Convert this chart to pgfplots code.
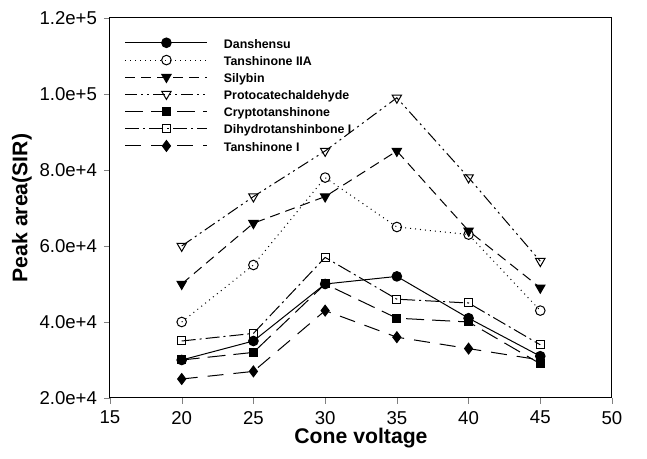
\documentclass[border=0pt]{standalone}
\usepackage{fontspec}
\setmainfont{Liberation Sans}
\usepackage{pgfplots}
\pgfplotsset{compat=1.18}

\begin{document}
\begin{tikzpicture}
\begin{axis}[
    at={(0,0)}, anchor=south west,
    width=251pt, height=190pt,
    scale only axis,
    xmin=15, xmax=50,
    ymin=20000, ymax=120000,
    xtick={15,20,...,50},
    ytick={20000,40000,60000,80000,100000,120000},
    yticklabels={2.0e+4,4.0e+4,6.0e+4,8.0e+4,1.0e+5,1.2e+5},
    scaled y ticks=false,
    tick align=outside,
    xtick pos=left, ytick pos=left,
    major tick length=3pt,
    /pgf/number format/assume math mode=true,
    tick label style={font=\fontsize{9.3}{11}\selectfont},
    xlabel={\bfseries Cone voltage},
    ylabel={\bfseries Peak area(SIR)},
    label style={font=\fontsize{10.6}{12}\selectfont},
    xlabel style={at={([yshift=-20pt]axis description cs:0.5,0)}, anchor=center},
    ylabel style={at={([xshift=-44pt]axis description cs:0,0.5)}, anchor=center},
    axis line style={line width=0.5pt},
    every axis plot/.append style={black, line width=0.5pt, mark size=2.4pt},
    legend style={draw=none, fill=none, at={(axis description cs:0.017,0.959)}, anchor=north west,
        font=\fontsize{6.2}{7}\selectfont\bfseries, row sep=0pt, column sep=3pt,
        nodes={inner ysep=0pt, inner xsep=5pt, text height=5pt, text depth=3.5pt},
        cells={anchor=west}},
    legend image code/.code={\draw[mark repeat=2,mark phase=2,#1] plot coordinates {(0pt,2pt) (20.5pt,2pt) (41pt,2pt)};},
]
\addplot[solid, mark=*] coordinates {
    (20,30000) (25,35000) (30,50000) (35,52000) (40,41000) (45,31000)};
\addlegendentry{Danshensu}
\addplot[dotted, mark=o, mark options={solid, fill=white}] coordinates {
    (20,40000) (25,55000) (30,78000) (35,65000) (40,63000) (45,43000)};
\addlegendentry{Tanshinone IIA}
\addplot[dash pattern=on 5pt off 3pt, mark=triangle*, mark options={solid, rotate=180}, mark size=2.7pt] coordinates {
    (20,50000) (25,66000) (30,73000) (35,85000) (40,64000) (45,49000)};
\addlegendentry{Silybin}
\addplot[dash pattern=on 6pt off 2pt on 1pt off 2pt on 1pt off 2pt, mark=triangle, mark options={solid, rotate=180, fill=white}, mark size=2.7pt] coordinates {
    (20,60000) (25,73000) (30,85000) (35,99000) (40,78000) (45,56000)};
\addlegendentry{Protocatechaldehyde}
\addplot[dash pattern=on 9pt off 4pt, mark=square*, mark options={solid}, mark size=2pt] coordinates {
    (20,30000) (25,32000) (30,50000) (35,41000) (40,40000) (45,29000)};
\addlegendentry{Cryptotanshinone}
\addplot[dash pattern=on 7pt off 2pt on 1pt off 2pt, mark=square, mark options={solid, fill=white}, mark size=2pt] coordinates {
    (20,35000) (25,37000) (30,57000) (35,46000) (40,45000) (45,34000)};
\addlegendentry{Dihydrotanshinbone I}
\addplot[dash pattern=on 8pt off 5pt, mark=diamond*, mark options={solid}, mark size=2.7pt] coordinates {
    (20,25000) (25,27000) (30,43000) (35,36000) (40,33000) (45,30000)};
\addlegendentry{Tanshinone I}
\end{axis}
\pgfresetboundingbox
\path (-55pt,-30.5pt) rectangle (268.5pt,199pt);
\end{tikzpicture}
\end{document}
